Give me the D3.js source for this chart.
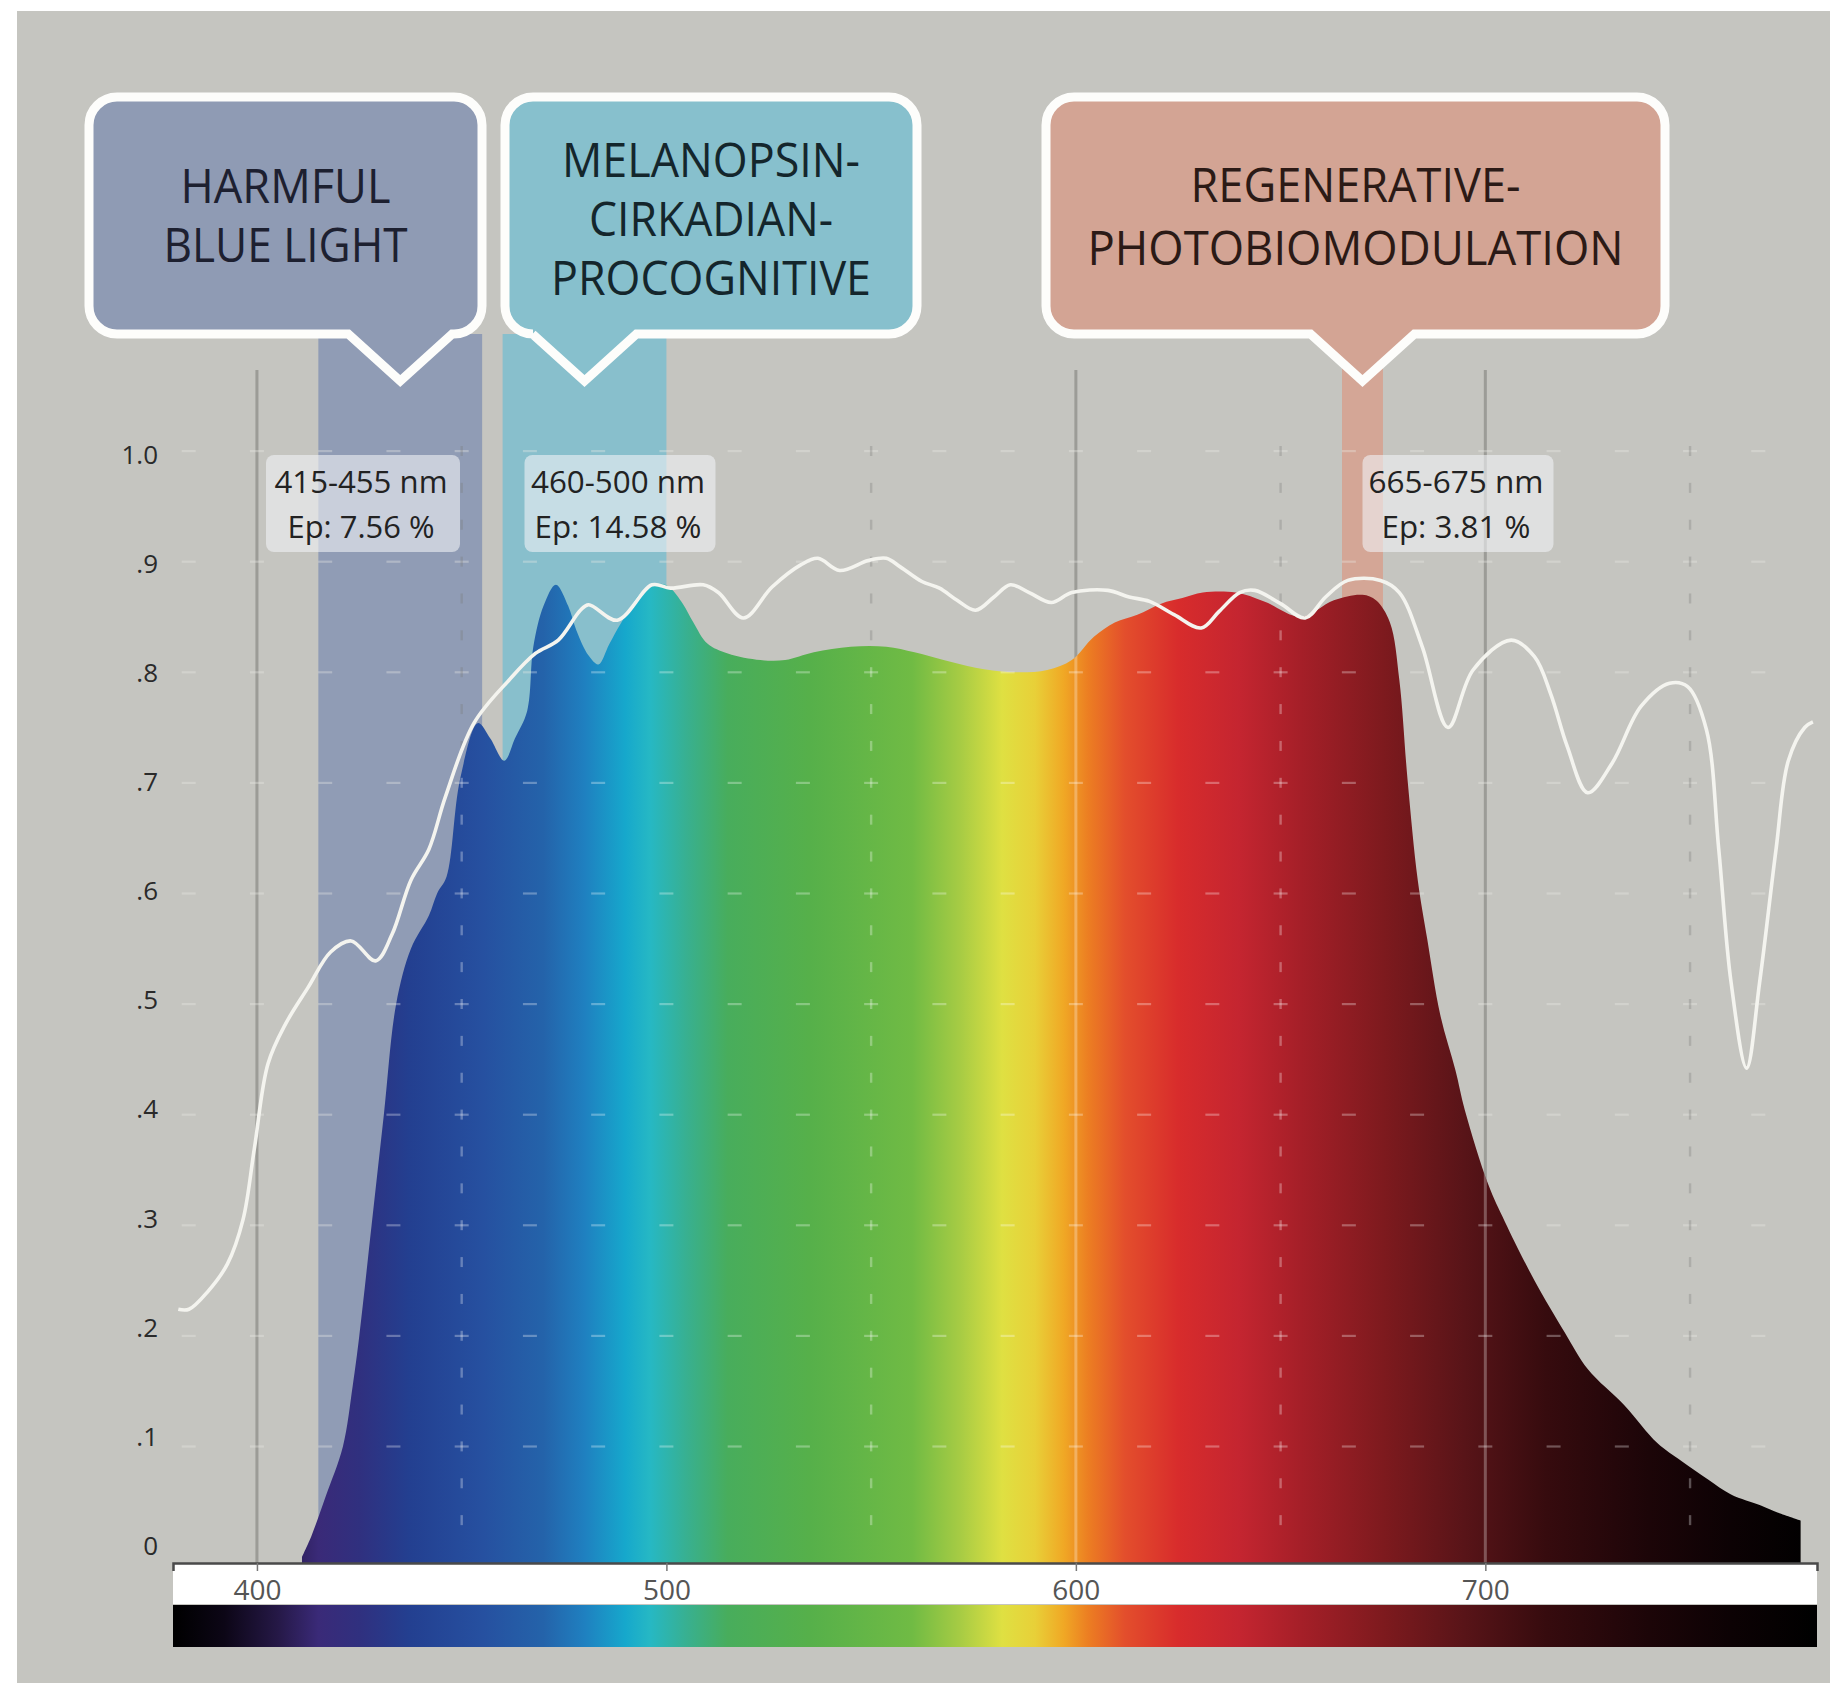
<!DOCTYPE html>
<html><head><meta charset="utf-8">
<script src="https://cdn.jsdelivr.net/npm/d3@7"></script>
<style>html,body{margin:0;padding:0;background:#fff;}svg{display:block}</style>
</head><body>
<svg id="chart" width="1830" height="1683"></svg>
<script>
// ================= DATA =================
// LED spectrum (relative intensity) — wavelength (nm) and value
const spectrumWl  = [411,413.4,416.8,421,423.4,425,428,431,434,437.6,442,444,446.3,449.6,454,457,460.4,463,466,467.5,470,473,476,478,481,483.4,486,489,494.4,498.7,501,504,506.6,510,515,523,529,536,545,553.7,560.6,567.7,575.5,584,593,599,604.4,609.5,615,620.8,626,631,639,646,655,663,670,673.3,676.7,679,681,683.5,685.8,689,692.7,695,700.7,704.8,712,719.4,725,734,742,747.8,754.4,760,767.3,771.5,777];
const spectrumVal = [0,0.02,0.055,0.10,0.155,0.20,0.30,0.40,0.50,0.55,0.58,0.60,0.615,0.703,0.754,0.74,0.72,0.74,0.765,0.823,0.86,0.879,0.86,0.838,0.815,0.807,0.825,0.845,0.874,0.88,0.876,0.862,0.845,0.826,0.817,0.811,0.811,0.818,0.823,0.823,0.818,0.811,0.804,0.80,0.802,0.811,0.832,0.845,0.852,0.862,0.867,0.872,0.872,0.864,0.85,0.865,0.87,0.865,0.845,0.793,0.703,0.612,0.559,0.49,0.44,0.404,0.337,0.303,0.25,0.203,0.170,0.137,0.103,0.087,0.070,0.0565,0.0466,0.040,0.033];
// white reference curve
const curveWl  = [380.8,383.4,388,392.8,396.6,399.4,402.7,407,412.5,418,423,429,433,437.6,442,446,453,461.6,468,473.6,479,481,488,496.5,501,509,512.7,518.8,525.8,532.8,537,542.3,549.3,553.7,557.2,562.4,566.7,571,575.5,580,584,588.6,594,599,607.8,613,618,624,630.6,635,640,643.7,650,656,661,666.4,674.4,679,684.6,690.9,697,706.3,712,716,720,725,731,738,745,749.4,754,757,760,763.8,767,771,774,778,780];
const curveVal = [0.224,0.224,0.24,0.265,0.305,0.37,0.446,0.482,0.515,0.547,0.557,0.539,0.563,0.612,0.64,0.687,0.754,0.793,0.817,0.829,0.856,0.861,0.847,0.879,0.876,0.879,0.872,0.849,0.877,0.897,0.903,0.892,0.901,0.903,0.895,0.882,0.876,0.865,0.856,0.868,0.879,0.872,0.863,0.872,0.874,0.868,0.864,0.852,0.84,0.855,0.872,0.874,0.862,0.849,0.868,0.883,0.883,0.872,0.823,0.75,0.802,0.829,0.814,0.78,0.733,0.691,0.718,0.769,0.79,0.787,0.748,0.64,0.52,0.442,0.52,0.64,0.72,0.75,0.755];
// axis ticks
const yTicks = [0,0.1,0.2,0.3,0.4,0.5,0.6,0.7,0.8,0.9,1.0];
const xTicks = [400,500,600,700];
const solidGridWl = [400,600,700];
const dashedGridWl = [450,550,650,750];
// highlighted bands
const bandRanges = [[415,455],[460,500],[665,675]];
const bandEp = ["7.56","14.58","3.81"];
const bandTitles = [["HARMFUL","BLUE LIGHT"],["MELANOPSIN-","CIRKADIAN-","PROCOGNITIVE"],["REGENERATIVE-","PHOTOBIOMODULATION"]];
// visible-spectrum colour stops
const gradWl    = [380,392,405,415,425,437,455,470,480,490,496,505,515,535,560,572,582,590,597,603,612,625,640,655,675,695,715,740,760,780];
const gradColor = ["#000000","#0c0616","#251846","#3a2a78","#30307f","#233f90","#2650a0","#2463aa","#1f80c0","#16a8cc","#26b8c4","#38b090","#48ad5c","#56b04a","#70bb44","#a8cc44","#dfe042","#e8d038","#f0a825","#ec7e22","#e34e2c","#d82c2c","#c42530","#a51f28","#7e1a1e","#581418","#360b0e","#1c0508","#0c0204","#000000"];

// ================= LAYOUT =================
const svg = d3.select("#chart");
const FONT = "'Open Sans','Noto Sans','DejaVu Sans',sans-serif";
const x = d3.scaleLinear().domain([379.5,781]).range([173,1817]);
const y = d3.scaleLinear().domain([0,1]).range([1557,451]);
const yLabel = y.copy().range([1546,455]);
const baseY = 1563;
const bandColors = ["#909cb5","#88bfcc","#d4a696"];
const calloutFill = ["#8f9bb4","#87c0cd","#d3a494"];
const calloutText = ["#1d2030","#14262c","#2b1a16"];
const callouts = [
  {x0:89, x1:482, base:[203,262], widths:[210,244]},
  {x0:505,x1:917, base:[177,236,295], widths:[298,244,320]},
  {x0:1046,x1:1665, base:[202,265], widths:[330,536]}
];
const boxTop=97, boxBot=334, R=28, ptrHalf=52, ptrTip=381;
const labelBoxes = [
  {cx:363, w:194, widths:[173,147]},
  {cx:620, w:191, widths:[174,167]},
  {cx:1458,w:191, widths:[175,149]}
];

// defs
const defs = svg.append("defs");
const grad = defs.append("linearGradient").attr("id","spec")
  .attr("gradientUnits","userSpaceOnUse")
  .attr("x1",x(380)).attr("x2",x(780)).attr("y1",0).attr("y2",0);
gradWl.forEach((w,i)=>grad.append("stop").attr("offset",(w-380)/400).attr("stop-color",gradColor[i]));

// background
svg.append("rect").attr("x",17).attr("y",11).attr("width",1830-17).attr("height",1683-11).attr("fill","#c5c5c0");

// bands
svg.append("g").selectAll("rect").data(bandRanges).join("rect")
  .attr("x",d=>x(d[0])).attr("width",d=>x(d[1])-x(d[0]))
  .attr("y",boxBot).attr("height",baseY-boxBot)
  .attr("fill",(d,i)=>bandColors[i]);

// solid grid lines (under area)
svg.append("g").selectAll("line").data(solidGridWl).join("line")
  .attr("x1",d=>x(d)).attr("x2",d=>x(d)).attr("y1",370).attr("y2",baseY)
  .attr("stroke","#9c9c97").attr("stroke-width",3);

// dashed grid marks (helper)
const hWl = d3.range(0,24).map(k=>400+(k-1)*100/6);
function drawDashes(g, hFill, vFill){
  yTicks.filter(v=>v>0).forEach(v=>{
    hWl.forEach(w=>{
      g.append("rect").attr("x",x(w)-7).attr("y",y(v)-1).attr("width",14).attr("height",2.2).attr("fill",hFill);
    });
  });
  dashedGridWl.forEach(w=>{
    d3.range(1,31).forEach(k=>{
      g.append("rect").attr("x",x(w)-1.2).attr("y",y(k/30)-5).attr("width",2.4).attr("height",10).attr("fill",vFill);
    });
  });
}
drawDashes(svg.append("g"), "rgba(235,235,230,0.35)", "rgba(120,120,115,0.3)");

// spectrum area
const pts = spectrumWl.map((w,i)=>[w,spectrumVal[i]]);
const area = d3.area().x(d=>x(d[0])).y0(baseY).y1(d=>y(d[1])).curve(d3.curveCatmullRom.alpha(0.5));
const areaPath = area(pts);
svg.append("path").attr("d",areaPath).attr("fill","url(#spec)");
defs.append("clipPath").attr("id","areaClip").append("path").attr("d",areaPath);

// overlays on the area
const over = svg.append("g").attr("clip-path","url(#areaClip)");
over.selectAll("line").data(solidGridWl).join("line")
  .attr("x1",d=>x(d)).attr("x2",d=>x(d)).attr("y1",370).attr("y2",baseY)
  .attr("stroke","rgba(255,255,255,0.28)").attr("stroke-width",3);
drawDashes(over.append("g"), "rgba(255,255,255,0.3)", "rgba(255,255,255,0.3)");

// white reference curve
const cpts = curveWl.map((w,i)=>[w,curveVal[i]]);
svg.append("path")
  .attr("d",d3.line().x(d=>x(d[0])).y(d=>y(d[1])).curve(d3.curveCatmullRom.alpha(0.5))(cpts))
  .attr("fill","none").attr("stroke","#f4f4ef").attr("stroke-width",3.6).attr("stroke-linejoin","round");

// wavelength/Ep label boxes
labelBoxes.forEach((b,i)=>{
  const g = svg.append("g");
  g.append("rect").attr("x",b.cx-b.w/2).attr("y",455).attr("width",b.w).attr("height",97).attr("rx",8)
    .attr("fill","rgba(240,242,245,0.6)");
  const lines = [`${bandRanges[i][0]}-${bandRanges[i][1]} nm`, `Ep: ${bandEp[i]} %`];
  lines.forEach((t,j)=>{
    g.append("text").attr("x",b.cx-2).attr("y",[493,538][j]).attr("text-anchor","middle")
      .attr("font-family",FONT).attr("font-size",31).attr("fill","#222")
      .attr("textLength",b.widths[j]).attr("lengthAdjust","spacingAndGlyphs").text(t);
  });
});

// callout boxes
callouts.forEach((c,i)=>{
  const px = x((bandRanges[i][0]+bandRanges[i][1])/2);
  const p = `M${c.x0+R},${boxTop} H${c.x1-R} A${R},${R} 0 0 1 ${c.x1},${boxTop+R} V${boxBot-R} A${R},${R} 0 0 1 ${c.x1-R},${boxBot} H${px+ptrHalf} L${px},${ptrTip} L${px-ptrHalf},${boxBot} H${c.x0+R} A${R},${R} 0 0 1 ${c.x0},${boxBot-R} V${boxTop+R} A${R},${R} 0 0 1 ${c.x0+R},${boxTop} Z`;
  svg.append("path").attr("d",p).attr("fill",calloutFill[i]).attr("stroke","#fdfdfb").attr("stroke-width",9);
  const cx=(c.x0+c.x1)/2;
  bandTitles[i].forEach((t,j)=>{
    svg.append("text").attr("x",cx).attr("y",c.base[j]).attr("text-anchor","middle")
      .attr("font-family",FONT).attr("font-size",47).attr("fill",calloutText[i])
      .attr("textLength",c.widths[j]).attr("lengthAdjust","spacingAndGlyphs").text(t);
  });
});

// x axis bar
svg.append("rect").attr("x",x(379.5)).attr("y",baseY).attr("width",x(781)-x(379.5)).attr("height",41).attr("fill","#ffffff");
const xAxis = d3.axisBottom(x).tickValues(xTicks).tickSize(8).tickSizeOuter(8).tickPadding(9);
const xg = svg.append("g").attr("transform",`translate(0,${baseY})`).call(xAxis);
xg.select(".domain").attr("stroke","#4a4a4a").attr("stroke-width",2.5);
xg.selectAll(".tick line").attr("stroke","#777").attr("stroke-width",1.5);
xg.selectAll(".tick text").attr("font-family",FONT).attr("font-size",28).attr("fill","#555");
// spectrum colour bar
svg.append("rect").attr("x",x(379.5)).attr("y",1605).attr("width",x(781)-x(379.5)).attr("height",42).attr("fill","url(#spec)");

// y axis labels
const fmt = v => v===0 ? "0" : (v===1 ? "1.0" : "." + Math.round(v*10));
const yAxis = d3.axisLeft(yLabel).tickValues(yTicks).tickSize(0).tickPadding(0).tickFormat(fmt);
const yg = svg.append("g").attr("transform","translate(158,0)").call(yAxis);
yg.select(".domain").remove();
yg.selectAll(".tick text").attr("font-family",FONT).attr("font-size",26).attr("fill","#2a2a2a");
</script>
</body></html>
